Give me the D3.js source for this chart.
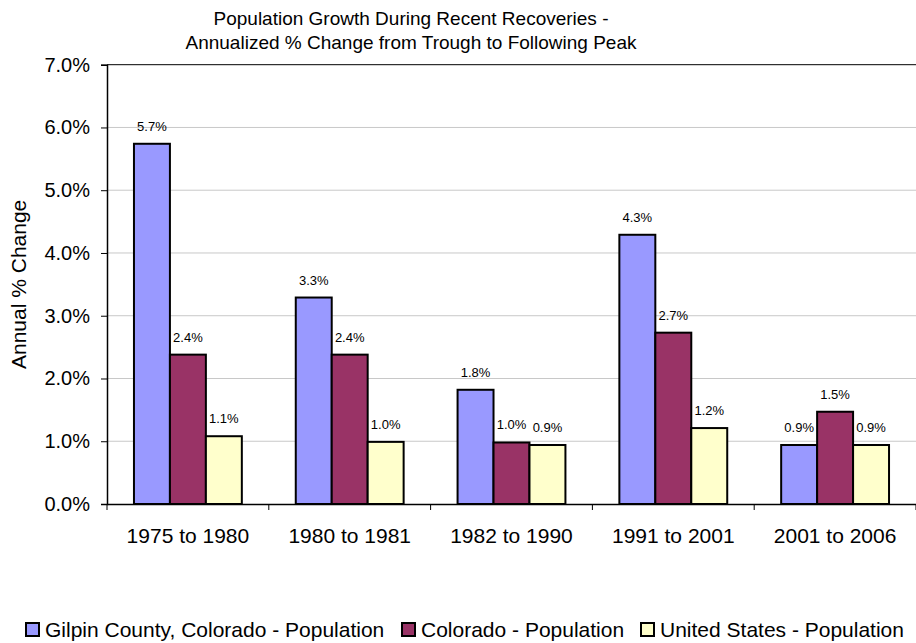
<!DOCTYPE html>
<html>
<head>
<meta charset="utf-8">
<script src="https://cdn.jsdelivr.net/npm/d3@7"></script>
<style>
  body { margin: 0; background: #fff; }
  text { font-family: "Liberation Sans", Arial, Helvetica, sans-serif; fill: #000; }
</style>
</head>
<body>
<div id="chart"></div>
<script>
const periods = ["1975 to 1980", "1980 to 1981", "1982 to 1990", "1991 to 2001", "2001 to 2006"];
const seriesNames = ["Gilpin County, Colorado - Population", "Colorado - Population", "United States - Population"];
const gilpin = [5.74, 3.29, 1.82, 4.29, 0.94];
const colorado = [2.38, 2.38, 0.98, 2.73, 1.47];
const unitedStates = [1.08, 0.99, 0.94, 1.21, 0.94];
const yTicks = [0, 1, 2, 3, 4, 5, 6, 7];
const colors = ["#9999ff", "#993366", "#ffffcc"];

const W = 916, H = 643;
const margin = {top: 64.7, right: 0, bottom: 139, left: 107};
const width = W - margin.left - margin.right,
    height = H - margin.top - margin.bottom;

const svg = d3.select("#chart")
    .append("svg")
    .attr("width", W)
    .attr("height", H);

const g = svg.append("g")
    .attr("transform", `translate(${margin.left}, ${margin.top})`);

const x0 = d3.scaleBand()
    .domain(periods)
    .range([0, width])
    .paddingInner(1 / 3)
    .paddingOuter(1 / 6);

const x1 = d3.scaleBand()
    .domain(seriesNames)
    .range([0, x0.bandwidth()]);

const y = d3.scaleLinear()
    .domain([0, 7])
    .range([height, 0]);

// gridlines
g.selectAll("line.grid")
    .data(yTicks.slice(1))
    .join("line")
    .attr("class", "grid")
    .attr("x1", 0)
    .attr("x2", width)
    .attr("y1", d => y(d))
    .attr("y2", d => y(d))
    .style("stroke", d => d === 7 ? "#000" : "#c8c8c8")
    .style("stroke-width", 1);

const rows = periods.map((p, i) => ({
    period: p,
    values: [gilpin[i], colorado[i], unitedStates[i]]
}));

const groups = g.selectAll("g.group")
    .data(rows)
    .join("g")
    .attr("class", "group")
    .attr("transform", d => `translate(${x0(d.period)}, 0)`);

groups.selectAll("rect")
    .data(d => d.values.map((v, j) => ({name: seriesNames[j], value: v, j: j})))
    .join("rect")
    .attr("x", d => x1(d.name))
    .attr("width", x1.bandwidth())
    .attr("y", d => y(d.value))
    .attr("height", d => height - y(d.value))
    .style("fill", d => colors[d.j])
    .style("stroke", "#000")
    .style("stroke-width", 2);

groups.selectAll("text.lbl")
    .data(d => d.values.map((v, j) => ({name: seriesNames[j], value: v})))
    .join("text")
    .attr("class", "lbl")
    .attr("x", d => x1(d.name) + x1.bandwidth() / 2)
    .attr("y", d => y(d.value) - 13)
    .attr("text-anchor", "middle")
    .style("font-size", "13px")
    .text(d => d.value.toFixed(1) + "%");

// y axis
const yAxis = g.append("g")
    .call(d3.axisLeft(y).tickValues(yTicks).tickSize(6).tickFormat(d => d.toFixed(1) + "%"));
yAxis.select(".domain").attr("stroke", "#000").attr("stroke-width", 1.5);
yAxis.selectAll("text").style("font-size", "20px").attr("x", -17);

// x axis
const xAxis = g.append("g")
    .attr("transform", `translate(0, ${height})`)
    .call(d3.axisBottom(x0).tickSize(0).tickSizeOuter(0));
xAxis.select(".domain").attr("stroke", "#000").attr("stroke-width", 1.5);
xAxis.selectAll("text").style("font-size", "21px").attr("dy", null).attr("y", 39);

xAxis.selectAll("line.sep")
    .data(d3.range(periods.length + 1))
    .join("line")
    .attr("class", "sep")
    .attr("x1", i => i * x0.step())
    .attr("x2", i => i * x0.step())
    .attr("y1", 0)
    .attr("y2", 6)
    .style("stroke", "#000");

// title
svg.append("text")
    .attr("x", 411)
    .attr("y", 25)
    .attr("text-anchor", "middle")
    .style("font-size", "19px")
    .text("Population Growth During Recent Recoveries -");
svg.append("text")
    .attr("x", 411)
    .attr("y", 49)
    .attr("text-anchor", "middle")
    .style("font-size", "19px")
    .text("Annualized % Change from Trough to Following Peak");

// y axis title
svg.append("text")
    .attr("transform", `translate(26, ${margin.top + height / 2}) rotate(-90)`)
    .attr("text-anchor", "middle")
    .style("font-size", "21px")
    .text("Annual % Change");

// legend
const legendX = [26, 402, 641];
const legend = svg.selectAll("g.legend")
    .data(seriesNames)
    .join("g")
    .attr("class", "legend")
    .attr("transform", (d, i) => `translate(${legendX[i]}, 623)`);

legend.append("rect")
    .attr("width", 13)
    .attr("height", 13)
    .style("fill", (d, i) => colors[i])
    .style("stroke", "#000")
    .style("stroke-width", 2);

legend.append("text")
    .attr("x", 19)
    .attr("y", 14)
    .style("font-size", "21px")
    .text(d => d);
</script>
</body>
</html>
